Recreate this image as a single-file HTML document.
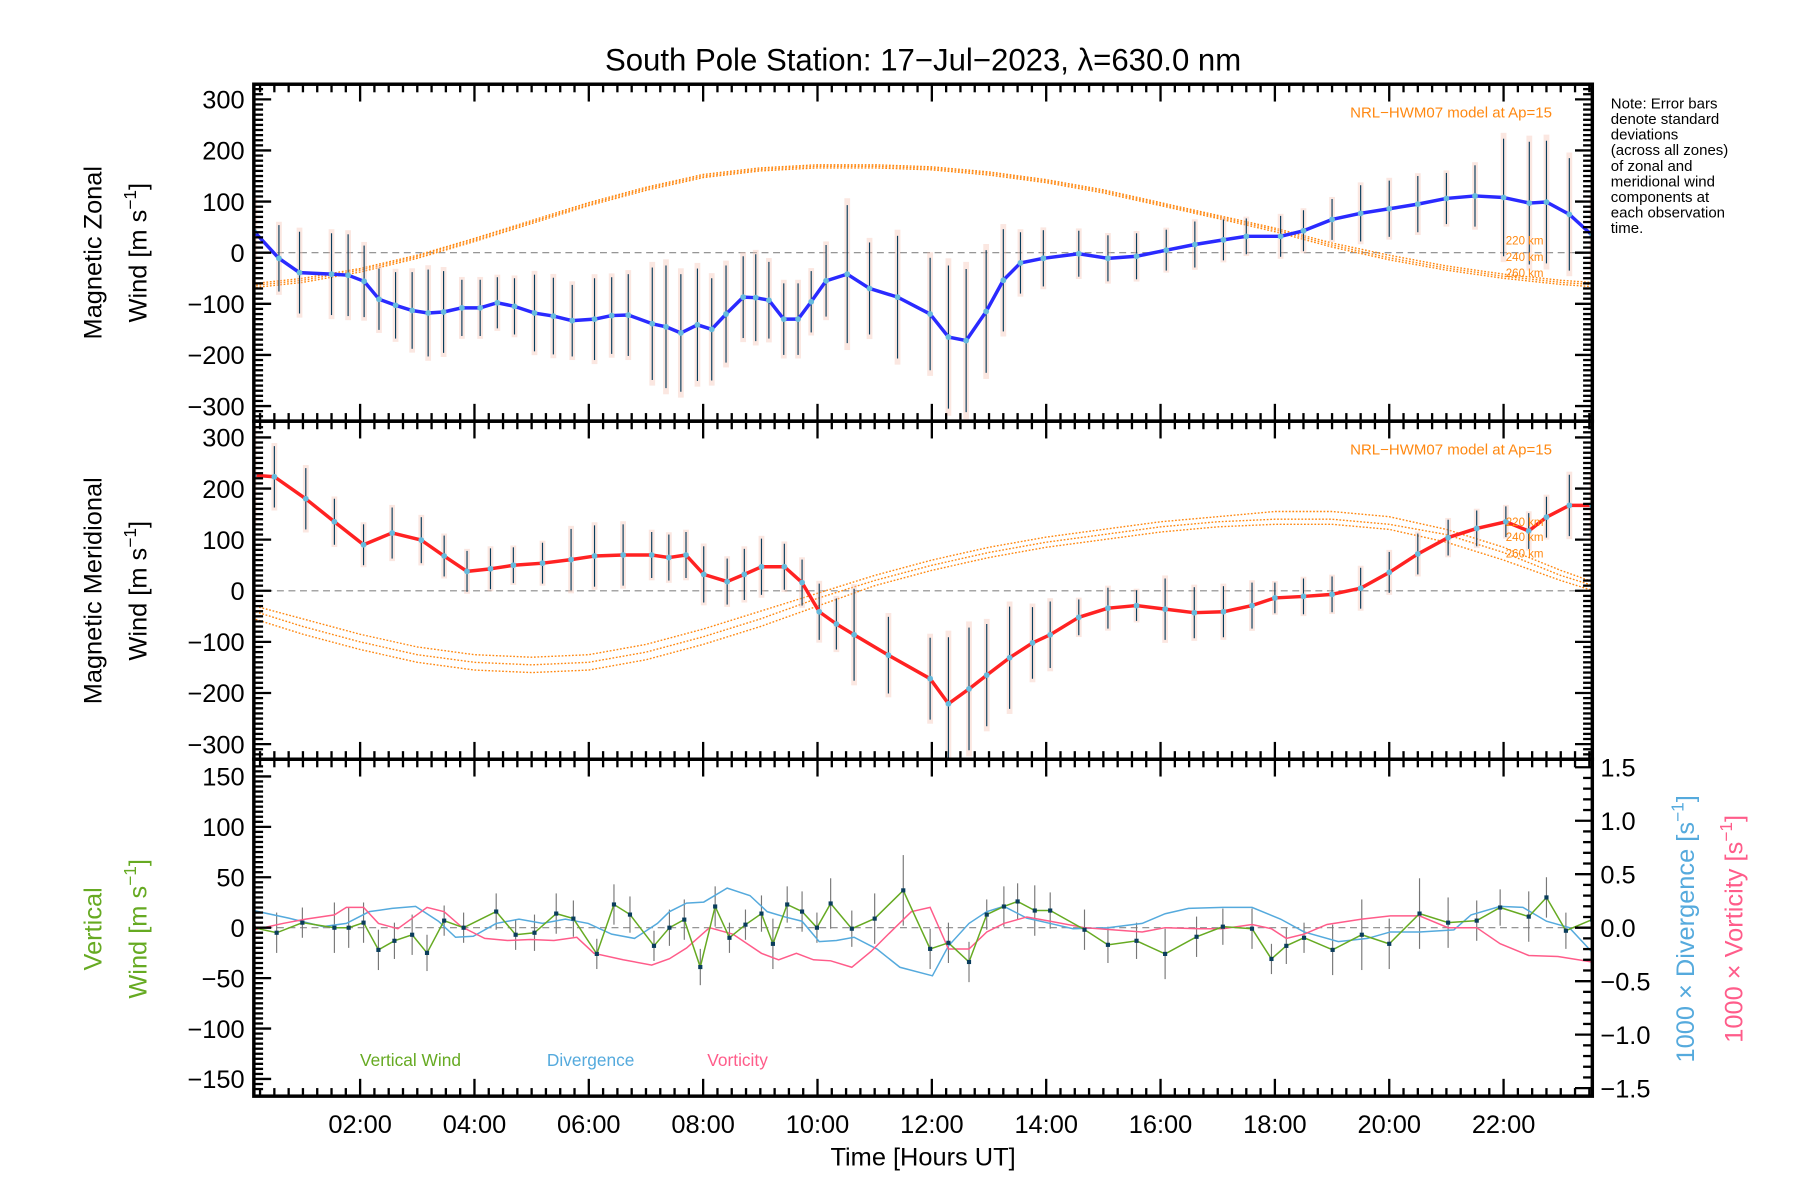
<!DOCTYPE html>
<html><head><meta charset="utf-8"><style>
html,body{margin:0;padding:0;background:#fff;}
svg{display:block;font-family:"Liberation Sans",sans-serif;}
</style></head><body>
<svg id="chart" width="1800" height="1200" viewBox="0 0 1560 1040" xmlns="http://www.w3.org/2000/svg">
<defs>
<clipPath id="c1"><rect x="220" y="73" width="1160" height="292"/></clipPath>
<clipPath id="c2"><rect x="220" y="365" width="1160" height="293"/></clipPath>
<clipPath id="c3"><rect x="220" y="658" width="1160" height="292"/></clipPath>
</defs>
<text x="800" y="61" font-size="27" text-anchor="middle">South Pole Station: 17−Jul−2023, λ=630.0 nm</text>
<g id="g1" clip-path="url(#c1)"></g>
<g id="g2" clip-path="url(#c2)"></g>
<g id="g3" clip-path="url(#c3)"></g>
<g id="axes"></g>
<text transform="translate(88,219) rotate(-90)" font-size="22" text-anchor="middle">Magnetic Zonal</text>
<text transform="translate(127,219) rotate(-90)" font-size="22" text-anchor="middle">Wind [m s<tspan dy="-9" font-size="15">−1</tspan><tspan dy="9">]</tspan></text>
<text transform="translate(88,512) rotate(-90)" font-size="22" text-anchor="middle">Magnetic Meridional</text>
<text transform="translate(127,512) rotate(-90)" font-size="22" text-anchor="middle">Wind [m s<tspan dy="-9" font-size="15">−1</tspan><tspan dy="9">]</tspan></text>
<text transform="translate(88,805) rotate(-90)" font-size="22" fill="#66aa22" text-anchor="middle">Vertical</text>
<text transform="translate(127,805) rotate(-90)" font-size="22" fill="#66aa22" text-anchor="middle">Wind [m s<tspan dy="-9" font-size="15">−1</tspan><tspan dy="9">]</tspan></text>
<text transform="translate(1468,805) rotate(-90)" font-size="22" fill="#55aadd" text-anchor="middle">1000 × Divergence [s<tspan dy="-9" font-size="15">−1</tspan><tspan dy="9">]</tspan></text>
<text transform="translate(1510,805) rotate(-90)" font-size="22" fill="#ff5c8a" text-anchor="middle">1000 × Vorticity [s<tspan dy="-9" font-size="15">−1</tspan><tspan dy="9">]</tspan></text>
<text x="800" y="1010" font-size="22" text-anchor="middle">Time [Hours UT]</text>
<g font-size="13" fill="#000">
<text x="1396" y="94">Note: Error bars</text><text x="1396" y="107.5">denote standard</text><text x="1396" y="121">deviations</text><text x="1396" y="134.5">(across all zones)</text><text x="1396" y="148">of zonal and</text><text x="1396" y="161.5">meridional wind</text><text x="1396" y="175">components at</text><text x="1396" y="188.5">each observation</text><text x="1396" y="202">time.</text>
</g>
<text x="1345" y="102" font-size="13" fill="#ff8811" text-anchor="end">NRL−HWM07 model at Ap=15</text>
<text x="1345" y="394" font-size="13" fill="#ff8811" text-anchor="end">NRL−HWM07 model at Ap=15</text>
<g font-size="10" fill="#ff8811"><text x="1305" y="212">220 km</text><text x="1305" y="226">240 km</text><text x="1305" y="240">260 km</text></g>
<g font-size="10" fill="#ff8811"><text x="1305" y="456">220 km</text><text x="1305" y="469">240 km</text><text x="1305" y="483">260 km</text></g>
<text x="312" y="924" font-size="15" fill="#66aa22">Vertical Wind</text>
<text x="474" y="924" font-size="15" fill="#55aadd">Divergence</text>
<text x="613" y="924" font-size="15" fill="#ff5c8a">Vorticity</text>
</svg>
<script>
const zonalHours=[.15,.58,.94,1.5,1.79,2.07,2.33,2.62,2.91,3.19,3.46,3.78,4.1,4.4,4.7,5.05,5.38,5.71,6.1,6.4,6.69,7.11,7.35,7.61,7.9,8.15,8.4,8.7,8.92,9.15,9.41,9.66,9.89,10.15,10.52,10.91,11.4,11.97,12.29,12.6,12.95,13.25,13.55,13.95,14.57,15.08,15.58,16.1,16.6,17.1,17.5,18.1,18.5,19.0,19.5,20.0,20.5,21.0,21.5,22.0,22.45,22.75,23.15,23.55];
const zonalValues=[41,-11,-39,-42,-44,-56,-91,-103,-113,-118,-116,-108,-108,-98,-105,-118,-124,-133,-130,-123,-122,-139,-145,-157,-141,-150,-120,-87,-88,-93,-130,-130,-96,-55,-42,-70,-87,-120,-165,-172,-115,-54,-20,-11,-2,-11,-7,5,16,25,32,32,43,65,77,86,95,106,111,108,97,99,75,34];
const zonalErrors=[60,65,80,80,80,70,60,65,75,85,80,55,55,50,55,75,75,70,80,75,80,110,120,115,110,100,95,80,85,75,70,70,60,70,135,90,120,110,140,140,120,100,60,55,45,45,45,40,45,40,35,40,40,40,55,55,55,50,60,115,120,120,110,70];
const merHours=[.14,.5,1.05,1.55,2.06,2.56,3.07,3.47,3.87,4.28,4.68,5.19,5.69,6.1,6.6,7.1,7.4,7.7,8.01,8.42,8.72,9.02,9.42,9.73,10.03,10.33,10.64,11.24,11.97,12.29,12.65,12.96,13.36,13.76,14.07,14.57,15.08,15.58,16.08,16.59,17.1,17.6,18.0,18.5,19.0,19.5,20.0,20.5,21.03,21.53,22.04,22.44,22.75,23.15,23.55];
const merValues=[226,223,180,135,90,113,99,68,38,43,50,54,61,68,70,70,65,70,32,18,32,47,47,16,-41,-65,-86,-126,-172,-221,-192,-165,-131,-102,-86,-52,-34,-29,-36,-43,-41,-29,-14,-11,-7,5,36,72,104,122,135,117,144,167,167];
const merErrors=[90,60,60,45,40,50,45,40,40,40,35,40,60,60,60,45,45,45,55,45,50,55,45,45,55,50,90,75,80,130,120,100,100,70,65,35,40,30,60,50,50,45,30,35,35,40,40,40,35,35,30,35,40,60,60];
const vertHours=[.14,.54,.99,1.55,1.8,2.06,2.32,2.6,2.91,3.17,3.47,3.81,4.38,4.72,5.05,5.43,5.73,6.14,6.44,6.72,7.14,7.41,7.67,7.95,8.21,8.46,8.74,9.02,9.22,9.47,9.73,9.99,10.23,10.6,11.0,11.5,11.97,12.29,12.65,12.96,13.26,13.5,13.8,14.07,14.67,15.08,15.58,16.08,16.63,17.09,17.6,17.94,18.2,18.51,19.01,19.52,20.0,20.53,21.03,21.53,21.94,22.44,22.75,23.09,23.55];
const vertValues=[0,-5,5,0,0,5,-22,-13,-7,-25,7,0,16,-7,-5,14,9,-26,23,13,-18,0,8,-39,21,-10,3,14,-16,23,16,0,24,-1,9,37,-21,-15,-34,13,21,26,17,17,-2,-17,-13,-26,-9,1,-1,-31,-18,-10,-22,-7,-16,14,5,7,20,11,30,-3,8];
const vertErrors=[25,20,15,25,20,20,20,18,20,18,15,15,18,15,18,20,18,15,20,18,15,18,20,18,20,15,15,18,25,18,20,15,25,18,25,35,20,20,20,15,20,18,25,18,20,18,18,25,20,18,20,15,18,15,25,35,25,35,25,20,18,25,20,18,15];
const divHours=[.14,.75,1.35,1.76,2.16,2.56,2.97,3.37,3.67,3.98,4.38,4.78,5.19,5.59,5.99,6.4,6.8,7.2,7.41,7.71,8.01,8.42,8.82,9.12,9.43,9.73,10.03,10.33,10.64,11.04,11.44,12.01,12.29,12.65,12.96,13.26,13.66,14.07,14.47,15.08,15.68,16.08,16.49,17.09,17.6,18.1,18.51,19.11,19.62,20.02,20.53,21.13,21.43,21.94,22.34,22.75,23.15,23.55];
const divValues=[.16,.09,.01,.04,.15,.18,.2,.06,-.09,-.08,.04,.08,.04,.08,.04,-.06,-.1,.04,.15,.23,.24,.37,.30,.15,.10,.06,-.13,-.12,-.09,-.2,-.37,-.45,-.17,.04,.15,.2,.09,.04,-.01,0,.04,.13,.18,.19,.19,.08,-.04,-.13,-.1,-.04,-.04,-.02,.12,.2,.19,.06,0,-.23];
const vortHours=[.14,.65,1.05,1.55,1.76,2.06,2.32,2.66,3.17,3.47,3.77,4.18,4.58,4.98,5.39,5.79,6.09,6.6,7.1,7.41,7.71,8.11,8.52,9.02,9.32,9.63,9.93,10.23,10.6,10.94,11.24,11.64,11.97,12.29,12.65,12.96,13.26,13.66,14.07,14.67,15.18,15.68,16.08,16.69,17.09,17.6,17.94,18.2,18.51,18.91,19.52,20.02,20.53,21.03,21.53,21.94,22.44,22.95,23.55];
const vortValues=[-.02,.04,.08,.12,.19,.19,.04,-.01,.19,.15,.01,-.1,-.12,-.11,-.12,-.09,-.24,-.3,-.35,-.29,-.19,0,-.06,-.24,-.3,-.24,-.3,-.31,-.37,-.22,-.06,.15,.19,-.2,-.2,-.04,.04,.1,.06,0,-.02,-.04,0,-.01,-.01,.03,-.01,-.1,-.06,.03,.08,.11,.11,0,0,-.15,-.26,-.27,-.32];
const modelHours=[0,1,2,3,4,5,6,7,8,9,10,11,12,13,14,15,16,17,18,19,20,21,22,23,24];
const zonal220=[-62,-50,-31,-5,28,63,98,128,153,166,172,172,168,158,143,123,98,73,48,19,-5,-26,-42,-54,-62];
const zonal240=[-66,-54,-34,-8,25,60,95,125,150,163,169,169,165,155,140,120,95,70,45,15,-10,-30,-46,-58,-66];
const zonal260=[-70,-58,-38,-11,22,57,92,122,147,160,166,166,162,152,137,117,92,67,41,11,-14,-34,-50,-62,-70];
const mer220=[-25,-55,-85,-110,-125,-130,-125,-105,-75,-40,-5,30,60,85,105,120,135,145,155,155,145,120,85,40,0];
const mer240=[-35,-70,-100,-125,-140,-145,-140,-120,-90,-55,-15,20,50,75,95,110,125,135,140,140,130,110,75,30,-5];
const mer260=[-50,-85,-115,-140,-155,-160,-155,-135,-105,-70,-30,10,40,65,85,100,115,125,130,130,120,95,60,20,-15];
const xTickLabels=["02:00","04:00","06:00","08:00","10:00","12:00","14:00","16:00","18:00","20:00","22:00"];
const xTickHours=[2,4,6,8,10,12,14,16,18,20,22];
const windTicks=[-300,-200,-100,0,100,200,300];
const vertTicks=[-150,-100,-50,0,50,100,150];
const rightTicks=[-1.5,-1.0,-0.5,0.0,0.5,1.0,1.5];

const NS="http://www.w3.org/2000/svg";
const L=220,R=1380;
const X=h=>213+h*49.55;
const Y1=v=>219-v*0.443, Y2=v=>512-v*0.443, Y3=v=>804-v*0.874, Y3r=v=>804-v*92.7;
function mk(parent,tag,attrs){const e=document.createElementNS(NS,tag);for(const k in attrs)e.setAttribute(k,attrs[k]);parent.appendChild(e);return e;}
const g1=document.getElementById('g1'),g2=document.getElementById('g2'),g3=document.getElementById('g3'),ax=document.getElementById('axes');
function poly(g,hs,vs,Y,attrs){return mk(g,'polyline',Object.assign({points:hs.map((h,i)=>X(h).toFixed(1)+','+Y(vs[i]).toFixed(1)).join(' '),fill:'none'},attrs));}

function windPanel(g,hs,vs,es,Y,m1,m2,m3,color,nm){
  mk(g,'line',{x1:L,x2:R,y1:Y(0),y2:Y(0),stroke:'#888','stroke-dasharray':'6,4','stroke-width':1});
  [m1,m2,m3].forEach((m,k)=>{const p=poly(g,modelHours,m,Y,{stroke:'#ff8811','stroke-width':1.2,'stroke-dasharray':'1.5,1.5'});
    
    });
  hs.forEach((h,i)=>{const e=es[i]||60,x=X(h);
    const bg=mk(g,'rect',{x:x-2.5,y:Y(vs[i]+e*1.1),width:5,height:Y(vs[i]-e*1.1)-Y(vs[i]+e*1.1),fill:'#f6c4b4',opacity:0.4});
    
    
    const b=mk(g,'line',{x1:x,x2:x,y1:Y(vs[i]+e),y2:Y(vs[i]-e),stroke:'#0a3d5c','stroke-width':1});
    
    });
  const ln=poly(g,hs,vs,Y,{stroke:color,'stroke-width':3,'stroke-linejoin':'round'});
  
  
  hs.forEach((h,i)=>{const c=mk(g,'circle',{cx:X(h),cy:Y(vs[i]),r:2.5,fill:'#66bbdd'});
    
    });
}
windPanel(g1,zonalHours,zonalValues,zonalErrors,Y1,zonal220,zonal240,zonal260,'#2a2aff','zonal');
windPanel(g2,merHours,merValues,merErrors,Y2,mer220,mer240,mer260,'#ff2222','meridional');

mk(g3,'line',{x1:L,x2:R,y1:804,y2:804,stroke:'#888','stroke-dasharray':'6,4','stroke-width':1});
vertHours.forEach((h,i)=>{const e=vertErrors[i];const b=mk(g3,'line',{x1:X(h),x2:X(h),y1:Y3(vertValues[i]+e),y2:Y3(vertValues[i]-e),stroke:'#777','stroke-width':1});
  
  });
const dv=poly(g3,divHours,divValues,Y3r,{stroke:'#55aadd','stroke-width':1.3});


const vo=poly(g3,vortHours,vortValues,Y3r,{stroke:'#ff5c8a','stroke-width':1.3});


const vw=poly(g3,vertHours,vertValues,Y3,{stroke:'#66aa22','stroke-width':1.3});


vertHours.forEach((h,i)=>{const r=mk(g3,'rect',{x:X(h)-1.8,y:Y3(vertValues[i])-1.8,width:3.6,height:3.6,fill:'#0a3d5c'});
  
  });

const panels=[[73,365,Y1,-330,330,10,100,windTicks],[365,658,Y2,-330,330,10,100,windTicks],[658,950,Y3,-165,165,5,50,vertTicks]];
panels.forEach((p,pi)=>{
  const [t,b,Y,lo,hi,mn,mj,labs]=p;
  const fr=mk(ax,'rect',{x:L,y:t,width:R-L,height:b-t,fill:'none',stroke:'#000','stroke-width':3});
  
  
  for(let v=Math.ceil(lo/mn)*mn;v<=hi;v+=mn){const y=Y(v);if(y<t+2||y>b-2)continue;const big=(v%mj===0);const len=big?15:8;
    mk(ax,'line',{x1:L,x2:L+len,y1:y,y2:y,stroke:'#000','stroke-width':2});
    if(pi<2) mk(ax,'line',{x1:R,x2:R-len,y1:y,y2:y,stroke:'#000','stroke-width':2});}
  labs.forEach(v=>{const tx=mk(ax,'text',{x:212,y:Y(v)+8,'font-size':22,'text-anchor':'end'});tx.textContent=(v<0?'−':'')+Math.abs(v);
    
    });
  for(let h=0.25;h<23.6;h+=0.25){const x=X(h);if(x<L+2||x>R-2)continue;const big=Math.abs(h/2-Math.round(h/2))<1e-6;const len=big?15:7;
    mk(ax,'line',{x1:x,x2:x,y1:t,y2:t+len,stroke:'#000','stroke-width':2});
    mk(ax,'line',{x1:x,x2:x,y1:b,y2:b-len,stroke:'#000','stroke-width':2});}
});
for(let v=-1.5;v<=1.501;v+=0.1){const y=Y3r(v);const big=Math.abs(v*2-Math.round(v*2))<1e-6;const len=big?15:8;
  mk(ax,'line',{x1:R,x2:R-len,y1:y,y2:y,stroke:'#000','stroke-width':2});}
rightTicks.forEach(v=>{const tx=mk(ax,'text',{x:1387,y:Y3r(v)+8,'font-size':22});tx.textContent=(v<0?'−':'')+Math.abs(v).toFixed(1);
  
  });
xTickHours.forEach((h,i)=>{const tx=mk(ax,'text',{x:X(h),y:982,'font-size':22,'text-anchor':'middle'});tx.textContent=xTickLabels[i];
  
  });
</script>
</body></html>
